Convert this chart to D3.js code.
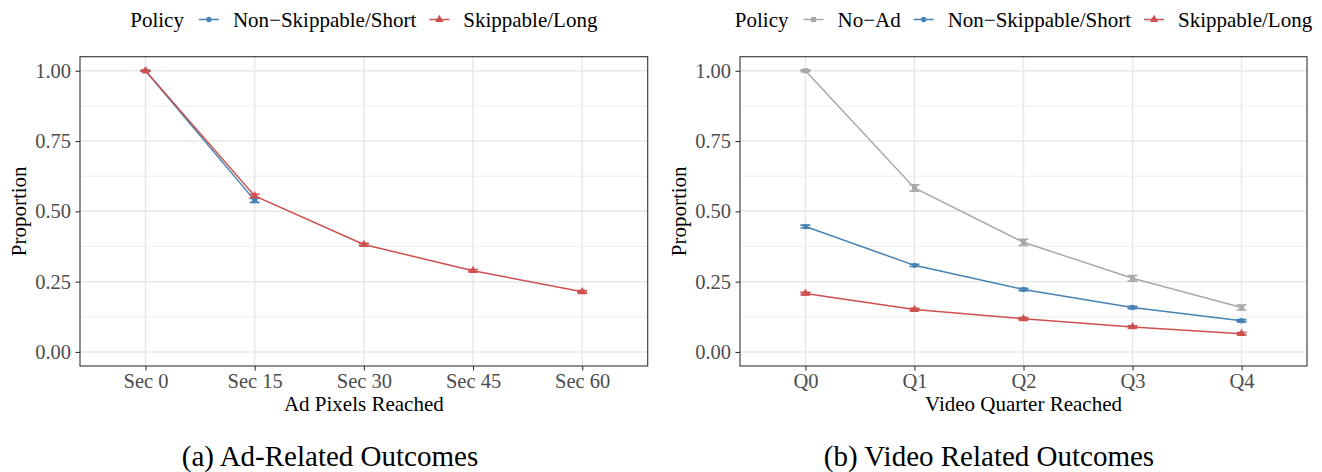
<!DOCTYPE html>
<html>
<head>
<meta charset="utf-8">
<script src="https://cdn.jsdelivr.net/npm/d3@7"></script>
<style>
  html, body { margin: 0; padding: 0; background: #ffffff; }
  svg { display: block; }
  text { font-family: "Liberation Serif", "Times New Roman", serif; }
</style>
</head>
<body>
<svg id="chart" width="1322" height="472"></svg>
<script>
// ---------- Data ----------
const adCategories = ["Sec 0", "Sec 15", "Sec 30", "Sec 45", "Sec 60"];
const adShortValues = [1.000, 0.539, null, null, null];
const adShortErrors = [0.002, 0.007, null, null, null];
const adLongValues  = [1.000, 0.555, 0.382, 0.289, 0.214];
const adLongErrors  = [0.002, 0.006, 0.004, 0.004, 0.004];

const videoCategories = ["Q0", "Q1", "Q2", "Q3", "Q4"];
const videoNoAdValues  = [1.000, 0.583, 0.390, 0.262, 0.158];
const videoNoAdErrors  = [0.003, 0.011, 0.011, 0.010, 0.009];
const videoShortValues = [0.446, 0.308, 0.222, 0.158, 0.111];
const videoShortErrors = [0.005, 0.004, 0.004, 0.004, 0.004];
const videoLongValues  = [0.208, 0.151, 0.118, 0.089, 0.065];
const videoLongErrors  = [0.004, 0.004, 0.004, 0.004, 0.004];

const yTickValues = [0, 0.25, 0.5, 0.75, 1.0];
const yMinorValues = [0.125, 0.375, 0.625, 0.875];

const policyNames = ["No\u2212Ad", "Non\u2212Skippable/Short", "Skippable/Long"];
const policyColors = ["#A9A9A9", "#4682B4", "#CD4F4F"];
const policyShapes = ["square", "circle", "triangle"];

// ---------- Drawing ----------
const svg = d3.select("#chart");
const FONT = '"Liberation Serif", "Times New Roman", serif';

function shapePath(shape) {
  if (shape === "circle") return d3.symbol(d3.symbolCircle, 22)();
  if (shape === "square") return d3.symbol(d3.symbolSquare, 26)();
  return d3.symbol(d3.symbolTriangle, 30)();
}

function drawPanel(cfg) {
  const g = svg.append("g");
  const x = d3.scalePoint().domain(cfg.categories).range([cfg.left, cfg.right]).padding(0.6);
  const y = d3.scaleLinear().domain([-0.05, 1.05]).range([cfg.bottom, cfg.top]);

  // grid
  const grid = g.append("g");
  grid.selectAll("line.minor").data(yMinorValues).join("line")
    .attr("x1", cfg.left).attr("x2", cfg.right)
    .attr("y1", d => y(d)).attr("y2", d => y(d))
    .attr("stroke", "#eeeeee").attr("stroke-width", 1);
  grid.selectAll("line.majy").data(yTickValues).join("line")
    .attr("x1", cfg.left).attr("x2", cfg.right)
    .attr("y1", d => y(d)).attr("y2", d => y(d))
    .attr("stroke", "#e8e8e8").attr("stroke-width", 1.5);
  grid.selectAll("line.majx").data(cfg.categories).join("line")
    .attr("x1", d => x(d)).attr("x2", d => x(d))
    .attr("y1", cfg.top).attr("y2", cfg.bottom)
    .attr("stroke", "#e8e8e8").attr("stroke-width", 1.5);

  // series
  cfg.series.forEach(s => {
    const pts = cfg.categories.map((c, i) => ({c, v: s.values[i], e: s.errors[i]}))
      .filter(p => p.v !== null);
    const line = d3.line().x(p => x(p.c)).y(p => y(p.v));
    g.append("path").datum(pts).attr("d", line)
      .attr("fill", "none").attr("stroke", s.color).attr("stroke-width", 1.5);
    const eb = g.append("g");
    eb.selectAll("path").data(pts).join("path")
      .attr("d", p => {
        const cx = x(p.c), y1 = y(p.v + p.e), y2 = y(p.v - p.e), w = 5;
        return `M${cx - w},${y1}H${cx + w}M${cx},${y1}V${y2}M${cx - w},${y2}H${cx + w}`;
      })
      .attr("fill", "none").attr("stroke", s.color).attr("stroke-width", 1.6);
    g.append("g").selectAll("path").data(pts).join("path")
      .attr("d", shapePath(s.shape))
      .attr("transform", p => `translate(${x(p.c)},${y(p.v)})`)
      .attr("fill", s.color);
  });

  // border
  g.append("rect").attr("x", cfg.left).attr("y", cfg.top)
    .attr("width", cfg.right - cfg.left).attr("height", cfg.bottom - cfg.top)
    .attr("fill", "none").attr("stroke", "#333333").attr("stroke-width", 1.1);

  // axes
  const yAxis = d3.axisLeft(y).tickValues(yTickValues).tickFormat(d3.format(".2f")).tickSize(4.5).tickPadding(4.5);
  const ya = g.append("g").attr("transform", `translate(${cfg.left},0)`).call(yAxis);
  const xAxis = d3.axisBottom(x).tickSize(4.5).tickPadding(3);
  const xa = g.append("g").attr("transform", `translate(0,${cfg.bottom})`).call(xAxis);
  [ya, xa].forEach(a => {
    a.attr("font-family", FONT);
    a.select(".domain").remove();
    a.selectAll(".tick line").attr("stroke", "#333333").attr("stroke-width", 1.1);
    a.selectAll(".tick text").attr("fill", "#4d4d4d").style("font-family", FONT).style("font-size", "20.5px");
  });

  // axis titles
  g.append("text").attr("x", (cfg.left + cfg.right) / 2).attr("y", 410.5)
    .attr("text-anchor", "middle").style("font-family", FONT).style("font-size", "21px").attr("fill", "#000").text(cfg.xTitle);
  g.append("text").attr("transform", `translate(${cfg.yTitleX},${(cfg.top + cfg.bottom) / 2}) rotate(-90)`)
    .attr("text-anchor", "middle").style("font-family", FONT).style("font-size", "21px").attr("fill", "#000").text("Proportion");

  // caption
  g.append("text").attr("x", cfg.captionX).attr("y", 466)
    .attr("text-anchor", "middle").style("font-family", FONT).style("font-size", "29px").attr("fill", "#000").text(cfg.caption);

  // legend
  const leg = g.append("g");
  const ly = 19.5;
  let cx = 0;
  const title = leg.append("text").attr("x", cx).attr("y", ly).attr("dy", "0.34em")
    .style("font-family", FONT).style("font-size", "21px").attr("fill", "#000").text("Policy");
  cx += title.node().getComputedTextLength() + 15;
  cfg.series.forEach((s, i) => {
    leg.append("line").attr("x1", cx).attr("x2", cx + 20).attr("y1", ly).attr("y2", ly)
      .attr("stroke", s.color).attr("stroke-width", 1.5);
    leg.append("path").attr("d", shapePath(s.shape)).attr("transform", `translate(${cx + 10},${ly})`)
      .attr("fill", s.color);
    cx += 34;
    const t = leg.append("text").attr("x", cx).attr("y", ly).attr("dy", "0.34em")
      .style("font-family", FONT).style("font-size", "21px").attr("fill", "#000").text(s.name);
    cx += t.node().getComputedTextLength() + 13;
  });
  const total = cx - 13;
  leg.attr("transform", `translate(${(cfg.left + cfg.right) / 2 - total / 2},0)`);
}

drawPanel({
  left: 80, right: 647.7, top: 56.7, bottom: 366,
  categories: adCategories,
  series: [
    {name: policyNames[1], color: policyColors[1], shape: policyShapes[1], values: adShortValues, errors: adShortErrors},
    {name: policyNames[2], color: policyColors[2], shape: policyShapes[2], values: adLongValues, errors: adLongErrors}
  ],
  xTitle: "Ad Pixels Reached",
  yTitleX: 26,
  caption: "(a) Ad-Related Outcomes",
  captionX: 330
});

drawPanel({
  left: 740, right: 1307, top: 56.7, bottom: 366,
  categories: videoCategories,
  series: [
    {name: policyNames[0], color: policyColors[0], shape: policyShapes[0], values: videoNoAdValues, errors: videoNoAdErrors},
    {name: policyNames[1], color: policyColors[1], shape: policyShapes[1], values: videoShortValues, errors: videoShortErrors},
    {name: policyNames[2], color: policyColors[2], shape: policyShapes[2], values: videoLongValues, errors: videoLongErrors}
  ],
  xTitle: "Video Quarter Reached",
  yTitleX: 686,
  caption: "(b) Video Related Outcomes",
  captionX: 989
});
</script>
</body>
</html>
